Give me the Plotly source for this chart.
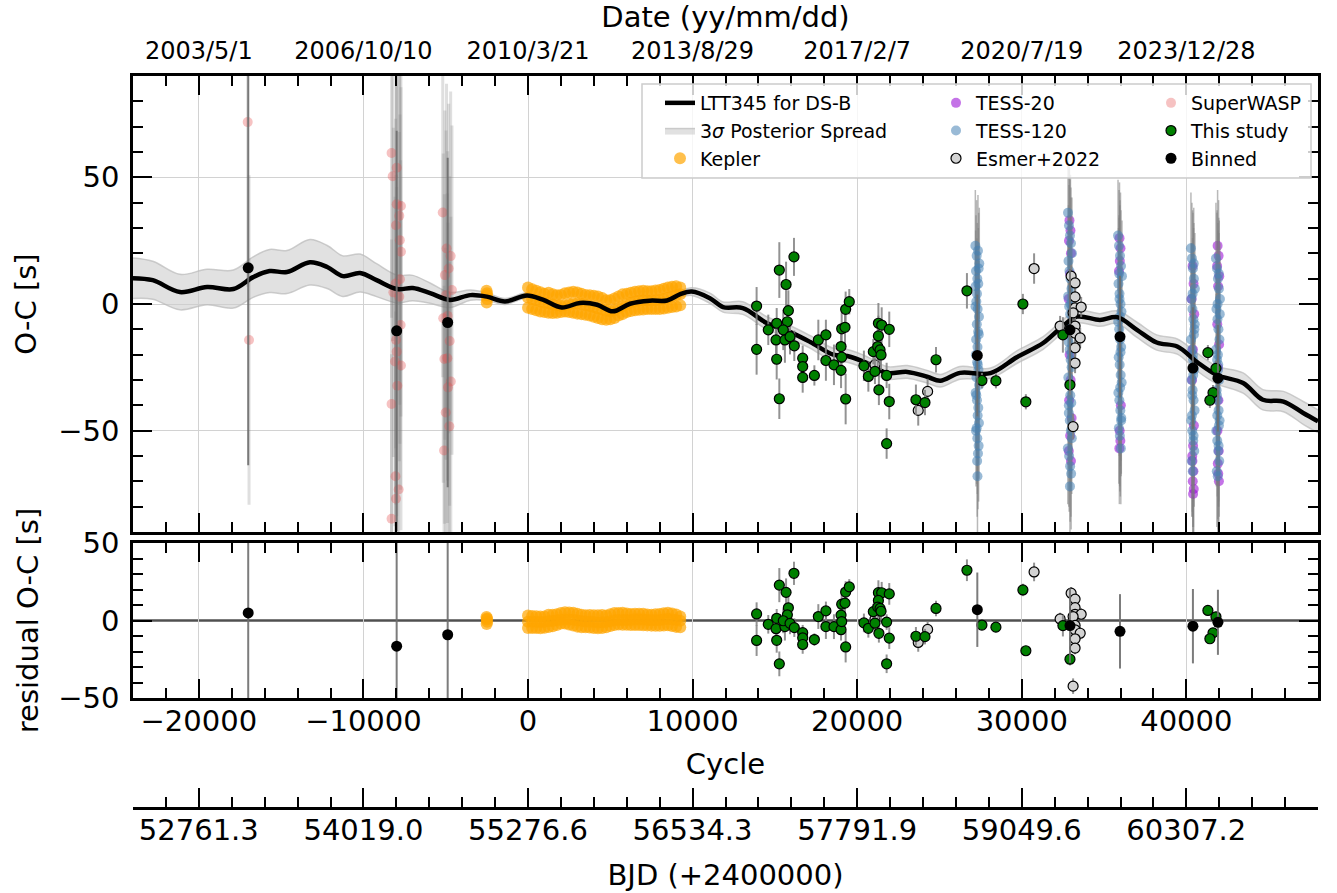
import numpy as np
import plotly.graph_objects as go

FONT = "DejaVu Sans"

# ---------------- data ----------------
model_cycle = [-24000, -22800, -21150, -19500, -17900, -16700, -15700, -14650, -13250, -12200,
               -11250, -10200, -9200, -7950, -7000, -5950, -4750, -3500, -2500, -1400,
               -60, 900, 2050, 3150, 4200, 5150, 6200, 7400, 8450, 9250,
               9950, 11050, 11850, 13050, 14500, 15900, 17150, 18550, 19400, 20600,
               21800, 23050, 24250, 25050, 26250, 28100, 29700, 31300, 32350, 33350,
               34750, 35800, 37000, 38200, 39450, 40650, 41850, 43450, 44650, 45900,
               47100, 48000]
model_oc = [10.2, 9.4, 4.7, 6.7, 5.9, 10.6, 13.0, 12.6, 16.5, 14.6,
            11.0, 12.2, 9.4, 5.9, 6.3, 4.3, 1.6, 3.5, 2.9, 1.0,
            3.4, 1.7, -1.4, 0.4, -0.3, -2.9, 0.1, 1.3, 1.4, 3.9,
            4.9, 2.3, -1.2, -1.6, -7.5, -11.0, -15.0, -20.0, -20.5, -23.3,
            -27.2, -26.8, -28.7, -30.3, -27.2, -27.3, -21.0, -15.4, -9.6, -5.0,
            -6.3, -5.2, -10.2, -15.2, -16.8, -22.9, -28.0, -31.2, -37.8, -38.5,
            -43.0, -46.3]
model_halfwidth = [8.0, 7.5, 7.0, 7.0, 7.5, 8.0, 8.5, 8.5, 9.0, 8.5,
                   8.0, 7.5, 6.5, 5.5, 5.0, 4.0, 3.0, 2.0, 1.5, 1.2,
                   1.0, 1.0, 1.0, 1.0, 1.0, 1.0, 1.0, 1.0, 1.0, 1.2,
                   1.5, 2.0, 2.0, 2.5, 2.5, 2.5, 2.5, 2.5, 2.5, 2.5,
                   2.5, 2.5, 2.5, 2.5, 2.5, 2.0, 2.5, 2.5, 2.5, 2.5,
                   2.5, 2.5, 3.0, 3.0, 3.0, 3.5, 3.5, 4.0, 4.0, 4.0,
                   4.5, 4.5]

kep_cycle = [0, 250, 500, 750, 1000, 1250, 1500, 1750, 2000, 2250, 2500, 2750, 3000, 3250,
             3500, 3750, 4000, 4250, 4500, 4750, 5000, 5250, 5500, 5750, 6000, 6250, 6500,
             6750, 7000, 7250, 7500, 7750, 8000, 8250, 8500, 8750, 9000, 9250]
kep_hi = [6.5, 5.8, 5.2, 4.6, 4.0, 4.4, 3.8, 3.5, 3.6, 4.2, 4.5, 4.8, 4.5, 4.0, 3.6, 3.5, 3.3,
          3.0, 2.4, 1.5, 1.5, 2.2, 3.0, 3.8, 4.0, 4.4, 4.8, 5.0, 5.2, 5.0, 5.0, 5.3, 5.5, 6.0,
          6.5, 6.8, 7.0, 6.5]
kep_mid = [2.5, 2.0, 1.5, 1.0, 0.5, 0.3, -0.2, -0.5, -0.8, -0.5, 0.0, 0.3, 0.2, 0.0, -0.5,
           -0.8, -1.2, -1.8, -2.2, -2.8, -3.0, -2.5, -1.6, -0.8, -0.2, 0.5, 1.0, 1.3, 1.5,
           1.4, 1.4, 1.5, 1.6, 2.0, 2.5, 3.0, 3.5, 3.8]
kep_lo = [-1.5, -2.0, -2.5, -3.0, -3.2, -3.5, -3.6, -3.5, -3.2, -3.0, -3.2, -3.5, -3.8, -4.0,
          -4.2, -4.5, -5.0, -5.5, -6.0, -6.2, -6.0, -5.5, -4.5, -4.0, -3.2, -2.8, -2.5, -2.3,
          -2.2, -2.0, -2.0, -2.0, -2.0, -1.8, -1.5, -1.2, -1.0, -0.5]
kep2_cycle = [-2520, -2500, -2480, -2510, -2490]
kep2_oc = [5.2, 3.5, 2.0, 0.6, 4.2]

swasp_cycle = [-17030, -16950,
               -8290, -7980, -8220, -7980, -7720, -7820, -8020, -7790, -7720, -7780, -8040, -8180,
               -7820, -7740, -8020, -7980, -8080, -7720, -7940, -8290, -8050, -7860, -8020, -8290,
               -5180, -4950, -4700, -4820, -5050, -4620, -4980, -4880, -5150, -4760, -4900, -5080,
               -4690, -4860, -5000, -4780, -5100]
swasp_oc = [71.8, -14.2,
            59.6, 53.8, 50.4, 39.4, 38.7, 34.8, 31.1, 25.2, 20.6, 9.8, 8.1, 4.6, 2.9, -8.3,
            -14.2, -18.8, -22.7, -24.3, -32.3, -39.5, -68.0, -73.2, -76.9, -84.8,
            36.1, 21.9, 18.9, 14.0, 11.4, 5.5, 3.5, -4.7, -5.6, -14.6, -21.4, -21.7, -30.6,
            -32.9, -42.8, -48.3, -57.8]
swasp_err = 65

s1_120_cycle = [27180, 27260, 27340, 27420, 27220, 27300, 27380, 27200, 27280, 27360, 27240,
                27320, 27400, 27190, 27270, 27350, 27230, 27310, 27390, 27210, 27290, 27370,
                27250, 27330, 27410, 27200, 27280, 27360, 27240, 27320, 27400, 27220, 27300,
                27380, 27260, 27340, 27290, 27310]
s1_120_oc = [23, 19, 21, 16, 13, 10, 14, 7, 4, 8, 1, -2, -5, -1, -8, -11, -14, -17, -12, -20,
             -23, -26, -29, -24, -32, -35, -38, -41, -36, -44, -47, -50, -53, -56, -49, -59,
             -62, -68]
s2_120_cycle = [32810, 32870, 32930, 32990, 33050, 32840, 32900, 32960, 33020, 32820, 32880,
                32940, 33000, 33060, 32850, 32910, 32970, 33030, 32830, 32890, 32950, 33010,
                32860, 32920, 32980, 33040, 32800, 32880, 32940, 33000, 32930, 32860, 33020,
                32960]
s2_120_oc = [36, 31, 27, 24, 20, 17, 13, 10, 6, 3, -1, -4, -8, -11, -15, -18, -22, -25, -29,
             -32, -36, -39, -43, -46, -50, -53, -57, -60, -64, -67, -72, -40, -20, 0]
s2_20_cycle = [32900, 32960, 32870, 32990, 32930, 32850, 33010, 32910, 32970, 32880, 33030,
               32940, 32860, 32990]
s2_20_oc = [33, 29, 25, 20, 12, 2, -10, -20, -30, -38, -45, -52, -58, -62]
s3_120_cycle = [35850, 35910, 35970, 36030, 36090, 35880, 35940, 36000, 36060, 35860, 35920,
                35980, 36040, 35890, 35950, 36010, 36070, 35870, 35930, 35990, 36050, 35900,
                35960, 36020, 35940, 36000, 35980, 35920, 36040, 35960]
s3_120_oc = [27, 23, 19, 15, 11, 8, 4, 0, -3, -7, -10, -14, -17, -21, -24, -28, -31, -35, -38,
             -42, -45, -49, -52, -57, 2, -19, -33, 12, -46, -5]
s3_20_cycle = [35940, 36000, 35960, 35910, 36020, 35950, 35990, 35930]
s3_20_oc = [26, 22, 17, 13, -40, -50, -54, -57]
s4_120_cycle = [40280, 40340, 40400, 40460, 40520, 40310, 40370, 40430, 40490, 40290, 40350,
                40410, 40470, 40320, 40380, 40440, 40500, 40300, 40360, 40420, 40480, 40330,
                40390, 40450, 40510, 40400, 40340, 40460, 40380, 40420, 40360, 40440]
s4_120_oc = [22, 18, 14, 10, 6, 2, -2, -6, -10, -14, -18, -22, -26, -30, -34, -38, -42, -46,
             -50, -54, -58, -62, -66, 16, -8, -20, -44, -12, 4, -28, -36, -52]
s4_20_cycle = [40380, 40440, 40320, 40480, 40400, 40350, 40460, 40410, 40370, 40430, 40390,
               40450, 40410, 40360]
s4_20_oc = [15, 8, 2, -4, -18, -30, -48, -56, -62, -66, -70, -73, -75, -60]
s5_120_cycle = [41800, 41860, 41920, 41980, 42040, 41830, 41890, 41950, 42010, 41810, 41870,
                41930, 41990, 41840, 41900, 41960, 42020, 41820, 41880, 41940, 42000, 41850,
                41910, 41970, 42030, 41920, 41860, 41980, 41900, 41940, 41880, 41960]
s5_120_oc = [18, 14, 10, 6, 2, -2, -6, -10, -14, -18, -22, -26, -30, -34, -38, -42, -46, -50,
             -54, -58, -62, -66, -68, 12, -4, -20, -36, -48, 0, -24, -44, -56]
s5_20_cycle = [41900, 41960, 41870, 42000, 41930, 41880, 41990, 41920, 41950, 41890, 41970,
               41910, 41940, 41980]
s5_20_oc = [23, 19, 15, 11, 7, -8, -16, -25, -38, -50, -58, -63, -67, -70]
tess_err = 22

study_cycle = [13890, 13890, 15270, 16160, 15680, 15820, 15760, 15110, 14600, 15070, 15610,
               15510, 15920, 16180, 15110, 15270, 16690, 16690, 16690, 17400, 17640, 18100,
               18100, 18590, 19020, 19020, 19060, 19260, 19300, 19520, 19300, 19060, 20410,
               20680, 20980, 21290, 21490, 21290, 21250, 21390, 21450, 21080, 21320, 21950,
               21950, 21790, 21790, 23570, 24120, 24790, 26670, 27580, 28430, 30070, 30250,
               32500, 32930, 41310, 41800, 41620, 41430]
study_oc = [-0.8, -17.9, 13.4, 18.6, 7.7, -2.6, -7.0, -7.6, -10.2, -14.2, -14.2, -10.2, -12.9,
            -16.5, -21.8, -37.4, -21.4, -24.7, -29.0, -28.2, -14.2, -12.2, -22.3, -24.0, -26.2,
            -16.8, -9.8, -9.2, -2.1, 0.9, -37.5, -21.0, -24.4, -28.6, -18.8, -7.6, -8.3, -12.6,
            -16.8, -18.1, -20.1, -26.6, -33.9, -10.0, -38.5, -55.1, -28.2, -37.8, -38.9, -22.0,
            5.2, -30.2, -30.3, 0.0, -38.6, -12.2, -31.9, -19.2, -25.4, -35.0, -38.0]
study_err = [7.5, 10, 11, 7.5, 9, 8, 7, 6, 6, 8, 9, 8, 7, 6, 8, 8, 5, 5, 6, 4, 8, 6, 8, 8, 7,
             8, 7, 7, 7, 5, 10, 6, 6, 6, 5, 8, 7, 8, 8, 6, 6, 5, 6, 7, 7, 6, 5, 6, 5, 5, 7, 3,
             3, 4, 3, 7, 4, 3, 3, 3, 3]

esmer_cycle = [21080, 23710, 24280, 30750, 33000, 33240, 33240, 33240, 33610, 33120, 32330,
               33240, 33240, 33550, 33240, 33240, 33120]
esmer_oc = [-24.0, -42.0, -34.5, 14.0, 11.0, 8.3, 2.8, -1.5, -1.2, -3.5, -8.7, -8.7, -11.5,
            -13.4, -17.3, -23.3, -48.4]
esmer_err = [4, 6, 5, 6, 4, 4, 4, 4, 4, 4, 4, 4, 4, 4, 4, 4, 5]

binned_cycle = [-17000, -7980, -4880, 27300, 32930, 35970, 40400, 41920]
binned_oc = [14.3, -10.6, -7.3, -20.3, -10.2, -12.9, -25.3, -29.3]
binned_err = [78, 79, 65, 24, 24, 24, 24, 21]

cycle_ticks = [-20000, -10000, 0, 10000, 20000, 30000, 40000]
cycle_labels = ["\u221220000", "\u221210000", "0", "10000", "20000", "30000", "40000"]
bjd_labels = ["52761.3", "54019.0", "55276.6", "56534.3", "57791.9", "59049.6", "60307.2"]
date_labels = ["2003/5/1", "2006/10/10", "2010/3/21", "2013/8/29", "2017/2/7",
               "2020/7/19", "2023/12/28"]

# ---------------- derived series ----------------
mc = np.array(model_cycle, float)
mo = np.array(model_oc, float)
mh = np.array(model_halfwidth, float)


def resid(c, o):
    return list(np.array(o, float) - np.interp(np.array(c, float), mc, mo))


kepler_cycle = kep_cycle * 3 + kep2_cycle
kepler_oc = kep_hi + kep_mid + kep_lo + kep2_oc
tess120_cycle = s1_120_cycle + s2_120_cycle + s3_120_cycle + s4_120_cycle + s5_120_cycle
tess120_oc = s1_120_oc + s2_120_oc + s3_120_oc + s4_120_oc + s5_120_oc
tess20_cycle = s2_20_cycle + s3_20_cycle + s4_20_cycle + s5_20_cycle
tess20_oc = s2_20_oc + s3_20_oc + s4_20_oc + s5_20_oc

# ---------------- geometry helpers ----------------
W, H = 1337, 893
ML, MR, MT, MB = 133, 19, 76, 86
PW, PH = W - ML - MR, H - MT - MB


def pxx(p):
    return (p - ML) / PW


def pxy(p):
    return (H - MB - p) / PH


GRID = "#d2d2d2"
ERR = "rgba(128,128,128,0.85)"
fig = go.Figure()

# band
fig.add_trace(go.Scatter(x=model_cycle, y=list(mo - mh), mode="lines", line=dict(color="rgba(185,185,185,0.7)", width=1.5, shape="spline"),
                         showlegend=False, hoverinfo="skip", xaxis="x", yaxis="y"))
fig.add_trace(go.Scatter(x=model_cycle, y=list(mo + mh), mode="lines", fill="tonexty",
                         fillcolor="rgba(205,205,205,0.6)",
                         line=dict(color="rgba(185,185,185,0.7)", width=1.5, shape="spline"),
                         name="3<i>σ</i> Posterior Spread", legend="legend", legendrank=2,
                         xaxis="x", yaxis="y"))
# SuperWASP
fig.add_trace(go.Scatter(x=swasp_cycle, y=swasp_oc, mode="markers", name="SuperWASP",
                         marker=dict(size=10, color="rgba(230,80,80,0.35)", line=dict(width=0)),
                         error_y=dict(type="constant", value=swasp_err, color="rgba(128,128,128,0.25)",
                                      thickness=3, width=0),
                         legend="legend3", legendrank=1, xaxis="x", yaxis="y"))
# Kepler
fig.add_trace(go.Scatter(x=kepler_cycle, y=kepler_oc, mode="markers", name="Kepler",
                         marker=dict(size=12, color="rgba(255,165,0,0.7)", line=dict(width=0)),
                         legend="legend", legendrank=3, xaxis="x", yaxis="y"))
# TESS-20
fig.add_trace(go.Scatter(x=tess20_cycle, y=tess20_oc, mode="markers", name="TESS-20",
                         marker=dict(size=10, color="rgba(148,0,211,0.55)", line=dict(width=0)),
                         error_y=dict(type="constant", value=tess_err, color="rgba(128,128,128,0.55)",
                                      thickness=1.5, width=0),
                         legend="legend2", legendrank=1, xaxis="x", yaxis="y"))
# TESS-120
fig.add_trace(go.Scatter(x=tess120_cycle, y=tess120_oc, mode="markers", name="TESS-120",
                         marker=dict(size=10, color="rgba(70,130,180,0.55)", line=dict(width=0)),
                         error_y=dict(type="constant", value=tess_err, color="rgba(128,128,128,0.55)",
                                      thickness=1.5, width=0),
                         legend="legend2", legendrank=2, xaxis="x", yaxis="y"))
# model line
fig.add_trace(go.Scatter(x=model_cycle, y=model_oc, mode="lines", name="LTT345 for DS-B",
                         line=dict(color="black", width=4.5, shape="spline"),
                         legend="legend", legendrank=1, xaxis="x", yaxis="y"))
# Esmer
fig.add_trace(go.Scatter(x=esmer_cycle, y=esmer_oc, mode="markers", name="Esmer+2022",
                         marker=dict(size=10, color="#d3d3d3", line=dict(width=1.2, color="black")),
                         error_y=dict(type="data", array=esmer_err, color=ERR, thickness=2, width=0),
                         legend="legend2", legendrank=3, xaxis="x", yaxis="y"))
# This study
fig.add_trace(go.Scatter(x=study_cycle, y=study_oc, mode="markers", name="This study",
                         marker=dict(size=10, color="green", line=dict(width=1.2, color="black")),
                         error_y=dict(type="data", array=study_err, color=ERR, thickness=2, width=0),
                         legend="legend3", legendrank=2, xaxis="x", yaxis="y"))
# Binned
fig.add_trace(go.Scatter(x=binned_cycle, y=binned_oc, mode="markers", name="Binned",
                         marker=dict(size=11, color="black", line=dict(width=0)),
                         error_y=dict(type="data", array=binned_err, color="rgba(110,110,110,0.9)",
                                      thickness=2, width=0),
                         legend="legend3", legendrank=3, xaxis="x", yaxis="y"))

# residual panel
fig.add_trace(go.Scatter(x=kepler_cycle, y=resid(kepler_cycle, kepler_oc), mode="markers",
                         marker=dict(size=12, color="rgba(255,165,0,0.7)", line=dict(width=0)),
                         showlegend=False, xaxis="x2", yaxis="y2"))
fig.add_trace(go.Scatter(x=esmer_cycle, y=resid(esmer_cycle, esmer_oc), mode="markers",
                         marker=dict(size=10, color="#d3d3d3", line=dict(width=1.2, color="black")),
                         error_y=dict(type="data", array=esmer_err, color=ERR, thickness=2, width=0),
                         showlegend=False, xaxis="x2", yaxis="y2"))
fig.add_trace(go.Scatter(x=study_cycle, y=resid(study_cycle, study_oc), mode="markers",
                         marker=dict(size=10, color="green", line=dict(width=1.2, color="black")),
                         error_y=dict(type="data", array=study_err, color=ERR, thickness=2, width=0),
                         showlegend=False, xaxis="x2", yaxis="y2"))
fig.add_trace(go.Scatter(x=binned_cycle, y=resid(binned_cycle, binned_oc), mode="markers",
                         marker=dict(size=11, color="black", line=dict(width=0)),
                         error_y=dict(type="data", array=binned_err, color="rgba(110,110,110,0.9)",
                                      thickness=2, width=0),
                         showlegend=False, xaxis="x2", yaxis="y2"))

# empty traces so the secondary (BJD / date) axes are created and drawn
fig.add_trace(go.Scatter(x=cycle_ticks, y=[None] * len(cycle_ticks), mode="markers",
                         showlegend=False, hoverinfo="skip", xaxis="x3", yaxis="y3"))
fig.add_trace(go.Scatter(x=cycle_ticks, y=[None] * len(cycle_ticks), mode="markers",
                         showlegend=False, hoverinfo="skip", xaxis="x4", yaxis="y"))

minor_x = list(range(-24000, 48001, 2000))
ax_common = dict(showline=True, linewidth=2.5, linecolor="black", ticks="inside",
                 tickcolor="black", tickwidth=2, ticklen=19, automargin=False,
                 tickfont=dict(size=29, family=FONT, color="black"))
xr = [-24000, 48000]
xgrid = dict(showgrid=True, gridcolor=GRID, gridwidth=1)
xminor = dict(tickvals=minor_x, ticks="inside", ticklen=10, tickwidth=1.5, tickcolor="black",
              showgrid=False)

fig.update_layout(
    width=W, height=H, margin=dict(l=ML, r=MR, t=MT, b=MB, autoexpand=False),
    paper_bgcolor="white", plot_bgcolor="white",
    font=dict(family=FONT, color="black"),
    xaxis=dict(**ax_common, **xgrid, zeroline=False, domain=[0, 1], anchor="y", range=xr,
               tickmode="array", tickvals=cycle_ticks, showticklabels=False,
               mirror="ticks", minor=xminor),
    yaxis=dict(**ax_common, zeroline=False, domain=[pxy(532), 1.0], anchor="x", range=[-90, 90],
               tickmode="array", tickvals=[-50, 0, 50], ticktext=["\u221250", "0", "50"],
               mirror="ticks",
               showgrid=True, gridcolor=GRID, gridwidth=1, ticklabelstandoff=5,
               minor=dict(tickvals=[-80, -70, -60, -40, -30, -20, -10, 10, 20, 30, 40, 60, 70, 80],
                          ticks="inside", ticklen=10, tickwidth=1.5, tickcolor="black"),
               title=dict(text="O-C [s]", font=dict(size=29, family=FONT), standoff=14)),
    xaxis2=dict(**ax_common, **xgrid, zeroline=False, domain=[0, 1], anchor="y2", range=xr,
                tickmode="array", tickvals=cycle_ticks, ticktext=cycle_labels,
                mirror="ticks", minor=xminor, ticklabelstandoff=-5,
                title=dict(text="Cycle", font=dict(size=29, family=FONT), standoff=18)),
    yaxis2=dict(**ax_common, zeroline=False, domain=[pxy(698), pxy(543)], anchor="x2",
                range=[-50, 50],
                tickmode="array", tickvals=[-50, 0, 50], ticktext=["\u221250", "0", "50"],
                mirror="ticks", ticklabelstandoff=5,
                showgrid=False,
                minor=dict(tickvals=[-40, -30, -20, -10, 10, 20, 30, 40],
                           ticks="inside", ticklen=10, tickwidth=1.5, tickcolor="black"),
                title=dict(text="residual O-C [s]", font=dict(size=29, family=FONT), standoff=12)),
    xaxis3=dict(**ax_common, zeroline=False, anchor="y3", side="bottom", domain=[0, 1],
                range=xr, tickmode="array", tickvals=cycle_ticks, ticktext=bjd_labels,
                showgrid=False, minor=xminor, ticklabelstandoff=-5,
                title=dict(text="BJD (+2400000)", font=dict(size=29, family=FONT), standoff=20)),
    yaxis3=dict(domain=[0, 0.003], anchor="x3", range=[0, 1], visible=False,
                showgrid=False, zeroline=False, automargin=False),
    xaxis4=dict(overlaying="x", anchor="y", side="top", range=xr, tickmode="array",
                tickvals=cycle_ticks, ticktext=date_labels, ticks="", showline=False,
                showgrid=False, zeroline=False, ticklabelstandoff=11, automargin=False,
                tickfont=dict(size=24, family=FONT, color="black"),
                title=dict(text="Date (yy/mm/dd)", font=dict(size=29, family=FONT), standoff=1)),
)

# residual zero line
fig.add_shape(type="line", xref="x2", yref="y2", x0=xr[0], x1=xr[1], y0=0, y1=0,
              line=dict(color="#505050", width=2.5), layer="below")

# legend frame
fig.add_shape(type="rect", xref="paper", yref="paper", x0=pxx(642), x1=pxx(1311),
              y0=pxy(178), y1=pxy(84), fillcolor="rgba(255,255,255,0.8)",
              line=dict(color="#cccccc", width=1.5), layer="above")

leg = dict(bgcolor="rgba(0,0,0,0)", borderwidth=0, xanchor="left", yanchor="top",
           font=dict(size=19, family=FONT, color="black"), tracegroupgap=0, itemwidth=30,
           traceorder="normal")
fig.update_layout(
    legend=dict(**leg, x=pxx(660), y=pxy(84)),
    legend2=dict(**leg, x=pxx(936), y=pxy(84)),
    legend3=dict(**leg, x=pxx(1151), y=pxy(84)),
)

fig.write_html("out.html")
